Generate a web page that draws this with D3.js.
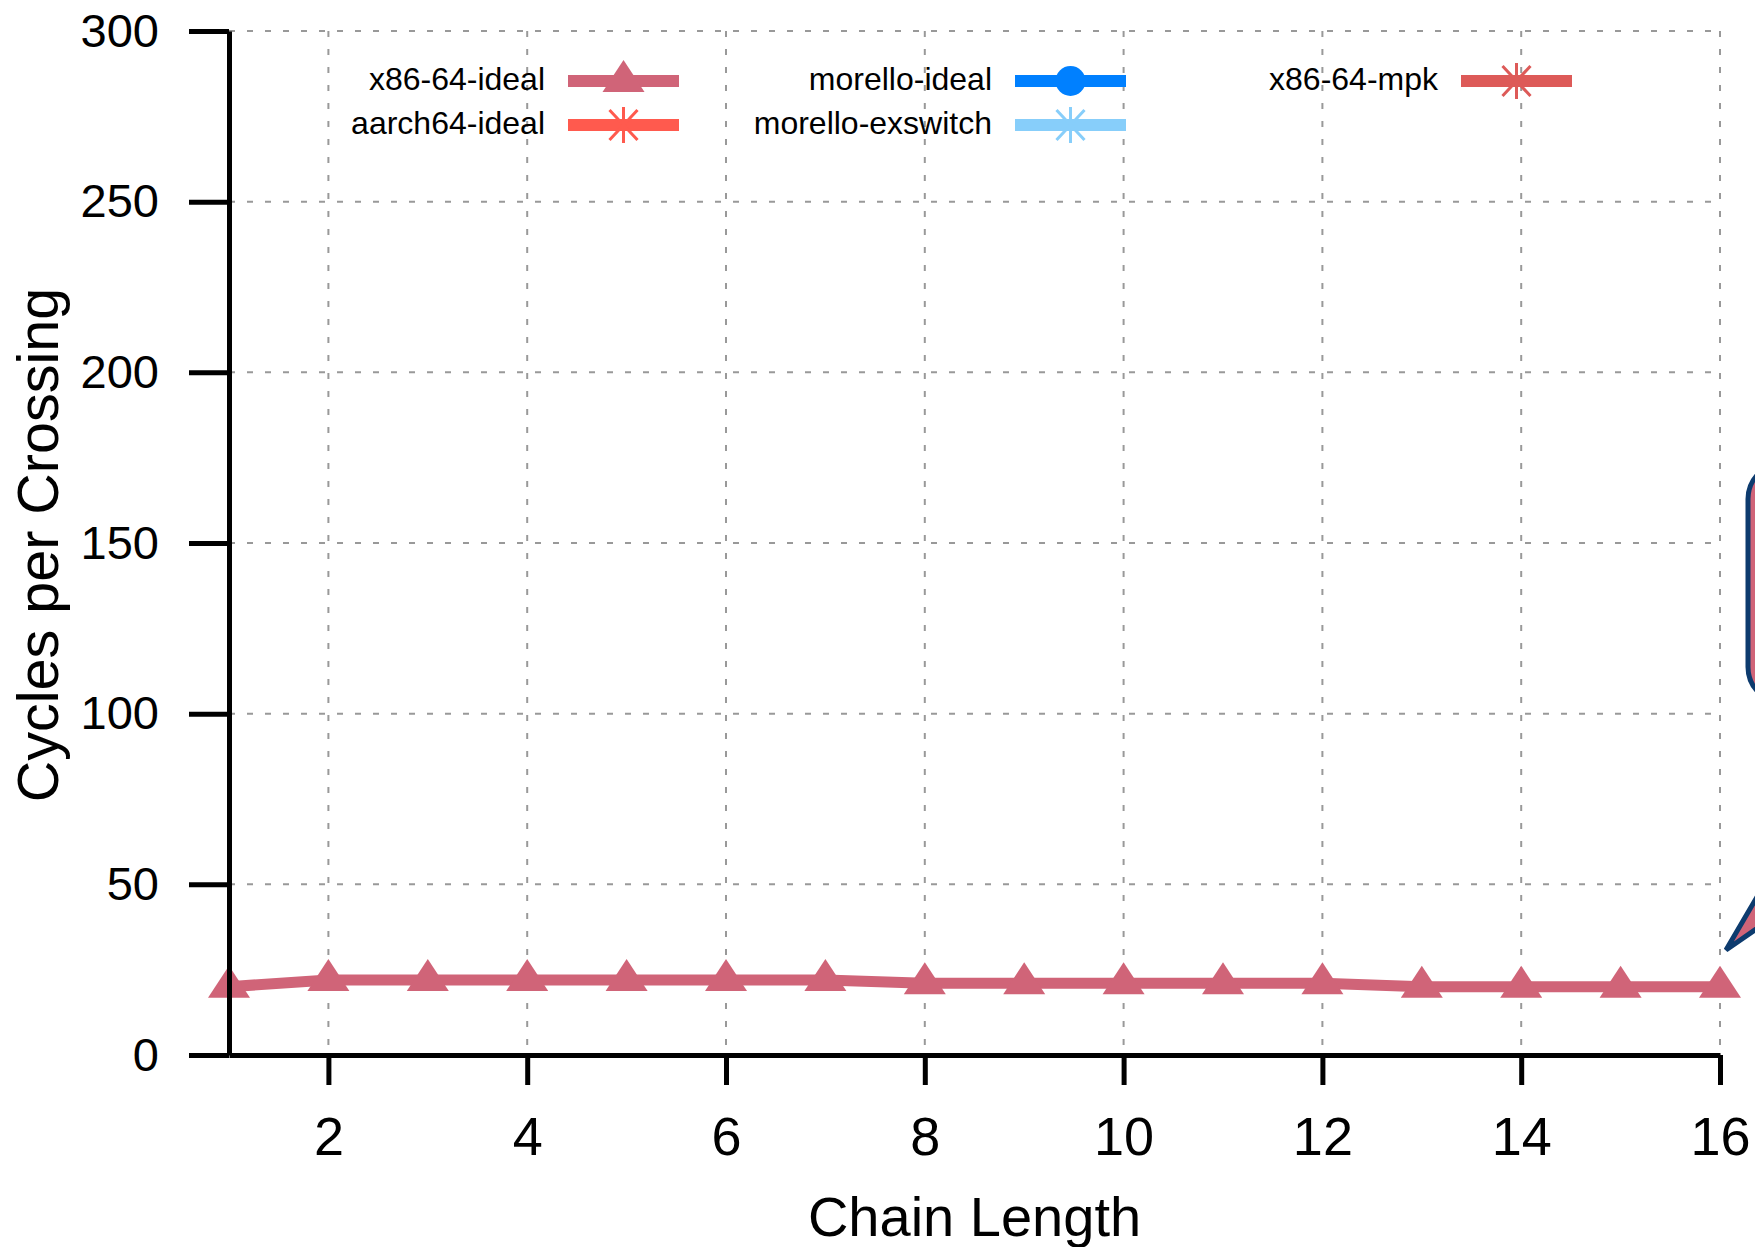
<!DOCTYPE html>
<meta charset="utf-8">
<style>
body { margin: 0; background: #fff; }
svg { display: block; font-family: "Liberation Sans", Arial, sans-serif; }
.grid line { stroke: #999; stroke-width: 2; stroke-dasharray: 6,12; }
.axis path, .axis line { stroke: #000; stroke-width: 5; }
.axis text { fill: #000; }
</style>
<svg width="1755" height="1247"></svg>
<script src="https://d3js.org/d3.v7.min.js"></script>
<script>

// chain lengths on the x axis
var chainLength = [1, 2, 3, 4, 5, 6, 7, 8, 9, 10, 11, 12, 13, 14, 15, 16];
var xTicks = [2, 4, 6, 8, 10, 12, 14, 16];
var yTicks = [0, 50, 100, 150, 200, 250, 300];

// cycles per crossing, only x86-64-ideal is visible in the plot
var x86Ideal = [20, 22, 22, 22, 22, 22, 22, 21, 21, 21, 21, 21, 20, 20, 20, 20];
var aarch64Ideal = [];
var morelloIdeal = [];
var morelloExswitch = [];
var x86Mpk = [];

var seriesNames = ["x86-64-ideal", "aarch64-ideal", "morello-ideal", "morello-exswitch", "x86-64-mpk"];
var seriesColors = ["#d06478", "#ff5a4e", "#0080ff", "#87cefa", "#dd5a58"];
var seriesSymbols = ["triangle", "asterisk", "circle", "asterisk", "asterisk"];
var seriesValues = [x86Ideal, aarch64Ideal, morelloIdeal, morelloExswitch, x86Mpk];

var svg = d3.select("svg");

var x = d3.scaleLinear().domain([1, 16]).range([229, 1720]);
var y = d3.scaleLinear().domain([0, 300]).range([1055, 31]);

function marker(sel, type, color) {
  if (type == "triangle") {
    sel.append("path").attr("d", "M0,-21L21,11L-21,11Z").attr("fill", color);
  } else if (type == "circle") {
    sel.append("circle").attr("r", 15).attr("fill", color);
  } else {
    sel.append("path")
      .attr("d", "M0,-18V18M-14,-15L14,15M-14,15L14,-15")
      .attr("stroke", color).attr("stroke-width", 3).attr("fill", "none");
  }
}

// grid
var grid = svg.append("g").attr("class", "grid");
grid.selectAll(".gy").data(yTicks.slice(1)).enter().append("line")
    .attr("x1", x(1)).attr("x2", x(16))
    .attr("y1", function(d) { return y(d); })
    .attr("y2", function(d) { return y(d); });
grid.selectAll(".gx").data(xTicks).enter().append("line")
    .attr("x1", function(d) { return x(d); })
    .attr("x2", function(d) { return x(d); })
    .attr("y1", y(300)).attr("y2", y(0));

// callout bubble at the right edge, mostly outside the picture
var bubble = svg.append("g");
bubble.append("path")
    .attr("d", "M1726,950L1878,690L2100,690Z")
    .attr("fill", "#d06478").attr("stroke", "#0d3b6e").attr("stroke-width", 5)
    .attr("stroke-linejoin", "miter");
bubble.append("rect")
    .attr("x", 1748).attr("y", 463).attr("width", 420).attr("height", 240).attr("rx", 36)
    .attr("fill", "#d06478").attr("stroke", "#0d3b6e").attr("stroke-width", 5);

// data lines
var line = d3.line()
    .x(function(d, i) { return x(chainLength[i]); })
    .y(function(d) { return y(d); });

seriesValues.forEach(function(vals, k) {
  if (!vals.length) return;
  svg.append("path")
      .datum(vals)
      .attr("fill", "none")
      .attr("stroke", seriesColors[k])
      .attr("stroke-width", 11)
      .attr("stroke-linejoin", "round")
      .attr("d", line);
  vals.forEach(function(v, i) {
    var g = svg.append("g").attr("transform", "translate(" + x(chainLength[i]) + "," + y(v) + ")");
    marker(g, seriesSymbols[k], seriesColors[k]);
  });
});

// axes
svg.append("g")
    .attr("class", "axis")
    .attr("transform", "translate(" + x(1) + ",0)")
    .call(d3.axisLeft(y).tickValues(yTicks).tickSize(40).tickSizeOuter(0).tickPadding(30))
    .selectAll("text").attr("font-size", 47).attr("font-family", "Liberation Sans, Arial, sans-serif");

svg.append("g")
    .attr("class", "axis")
    .attr("transform", "translate(0," + y(0) + ")")
    .call(d3.axisBottom(x).tickValues(xTicks).tickSize(30).tickSizeOuter(0).tickPadding(32))
    .selectAll("text").attr("font-size", 54).attr("font-family", "Liberation Sans, Arial, sans-serif");

svg.append("text")
    .attr("transform", "translate(58,545) rotate(-90)")
    .attr("text-anchor", "middle")
    .attr("font-size", 57.5)
    .text("Cycles per Crossing");

svg.append("text")
    .attr("x", (x(1) + x(16)) / 2)
    .attr("y", 1236)
    .attr("text-anchor", "middle")
    .attr("font-size", 56)
    .text("Chain Length");

// legend
var legendCols = [568, 1015, 1461];
var legendRows = [81, 125];
var legendPos = [[0, 0], [0, 1], [1, 0], [1, 1], [2, 0]];

seriesNames.forEach(function(name, k) {
  var lx = legendCols[legendPos[k][0]], ly = legendRows[legendPos[k][1]];
  var g = svg.append("g").attr("transform", "translate(" + lx + "," + ly + ")");
  g.append("text")
      .attr("x", -23).attr("y", 9)
      .attr("text-anchor", "end")
      .attr("font-size", 32)
      .text(name);
  g.append("line")
      .attr("x1", 0).attr("x2", 111)
      .attr("stroke", seriesColors[k]).attr("stroke-width", 12);
  var m = g.append("g").attr("transform", "translate(55.5,0)");
  marker(m, seriesSymbols[k], seriesColors[k]);
});

</script>
